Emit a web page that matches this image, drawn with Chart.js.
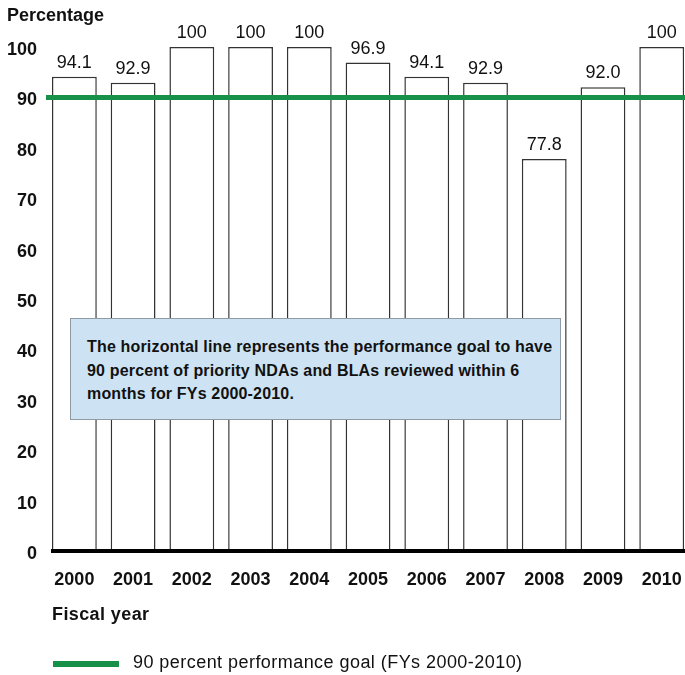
<!DOCTYPE html>
<html>
<head>
<meta charset="utf-8">
<script src="https://cdn.jsdelivr.net/npm/chart.js@4"></script>
<style>
  html, body { margin: 0; padding: 0; background: #fff; overflow: hidden; width: 685px; height: 675px; }
  #wrap { position: relative; width: 700px; height: 675px; }
  canvas { position: absolute; left: 0; top: 0; }
  .ov { position: absolute; font-family: "Liberation Sans", Arial, sans-serif; color: #111; white-space: nowrap; line-height: normal; }
  #ytitle { left: 7px; top: 5px; font-size: 18px; font-weight: bold; }
  #xtitle { left: 52px; top: 604px; font-size: 18px; font-weight: bold; letter-spacing: 0.4px; }
  #note { left: 70px; top: 318px; width: 491px; height: 102px; background: #cde3f4; border: 1.5px solid #8f9aa3; box-sizing: border-box; }
  #note div { position: absolute; left: 16px; top: 16px; font-size: 16px; font-weight: bold; line-height: 23.5px; white-space: nowrap; letter-spacing: 0.17px; }
  #legend { left: 53px; top: 652px; font-size: 18px; letter-spacing: 0.45px; }
  #legend .sw { position: absolute; left: 0; top: 9px; width: 66px; height: 6px; background: #17914a; }
  #legend .tx { position: absolute; left: 80px; top: 0; }
</style>
</head>
<body>
<div id="wrap">
  <canvas id="c" width="700" height="675"></canvas>
  <div class="ov" id="ytitle">Percentage</div>
  <div class="ov" id="xtitle">Fiscal year</div>
  <div class="ov" id="note"><div>The horizontal line represents the performance goal to have<br>90 percent of priority NDAs and BLAs reviewed within 6<br>months for FYs 2000-2010.</div></div>
  <div class="ov" id="legend"><span class="sw"></span><span class="tx">90 percent performance goal (FYs 2000-2010)</span></div>
</div>
<script>
const years = ["2000","2001","2002","2003","2004","2005","2006","2007","2008","2009","2010"];
const percentReviewed = [94.1, 92.9, 100, 100, 100, 96.9, 94.1, 92.9, 77.8, 92.0, 100];
const valueLabels = ["94.1","92.9","100","100","100","96.9","94.1","92.9","77.8","92.0","100"];
const goalValue = 90;
const yTicks = [0,10,20,30,40,50,60,70,80,90,100];

const FONT = '"Liberation Sans", Arial, sans-serif';

const extras = {
  id: 'extras',
  afterDatasetsDraw(chart) {
    const ctx = chart.ctx;
    const ys = chart.scales.y;
    const area = chart.chartArea;
    const meta = chart.getDatasetMeta(0);
    ctx.save();
    ctx.font = '18px ' + FONT;
    ctx.fillStyle = '#111';
    ctx.textAlign = 'center';
    ctx.textBaseline = 'alphabetic';
    meta.data.forEach((bar, i) => {
      ctx.fillText(valueLabels[i], bar.x, bar.y - 9);
    });
    const gy = ys.getPixelForValue(goalValue);
    ctx.strokeStyle = '#17914a';
    ctx.lineWidth = 5;
    ctx.beginPath();
    ctx.moveTo(area.left + 1, gy);
    ctx.lineTo(chart.width, gy);
    ctx.stroke();
    const by = ys.getPixelForValue(0);
    ctx.strokeStyle = '#000';
    ctx.lineWidth = 4;
    ctx.beginPath();
    ctx.moveTo(area.left + 6, by);
    ctx.lineTo(chart.width, by);
    ctx.stroke();
    ctx.restore();
  }
};

new Chart(document.getElementById('c'), {
  type: 'bar',
  data: {
    labels: years,
    datasets: [{
      data: percentReviewed,
      backgroundColor: '#ffffff',
      borderColor: '#333333',
      borderWidth: 1.5,
      borderSkipped: false,
      categoryPercentage: 1,
      barPercentage: 0.763
    }]
  },
  options: {
    responsive: false,
    animation: false,
    devicePixelRatio: 1,
    layout: { padding: { top: 47, right: 6, left: 0, bottom: 0 } },
    plugins: { legend: { display: false }, tooltip: { enabled: false } },
    scales: {
      x: {
        grid: { display: false, drawTicks: false },
        border: { display: false },
        ticks: { color: '#111', font: { family: FONT, size: 18, weight: 'bold' }, padding: 18, maxRotation: 0, autoSkip: false },
        afterFit(s) { s.height = 124; }
      },
      y: {
        min: 0, max: 100,
        afterBuildTicks(s) { s.ticks = yTicks.map(v => ({ value: v })); },
        grid: { display: false, drawTicks: false },
        border: { display: false },
        ticks: { color: '#111', font: { family: FONT, size: 18, weight: 'bold' }, padding: 8, labelOffset: 3 },
        afterFit(s) { s.width = 45; }
      }
    }
  },
  plugins: [extras]
});
</script>
</body>
</html>
